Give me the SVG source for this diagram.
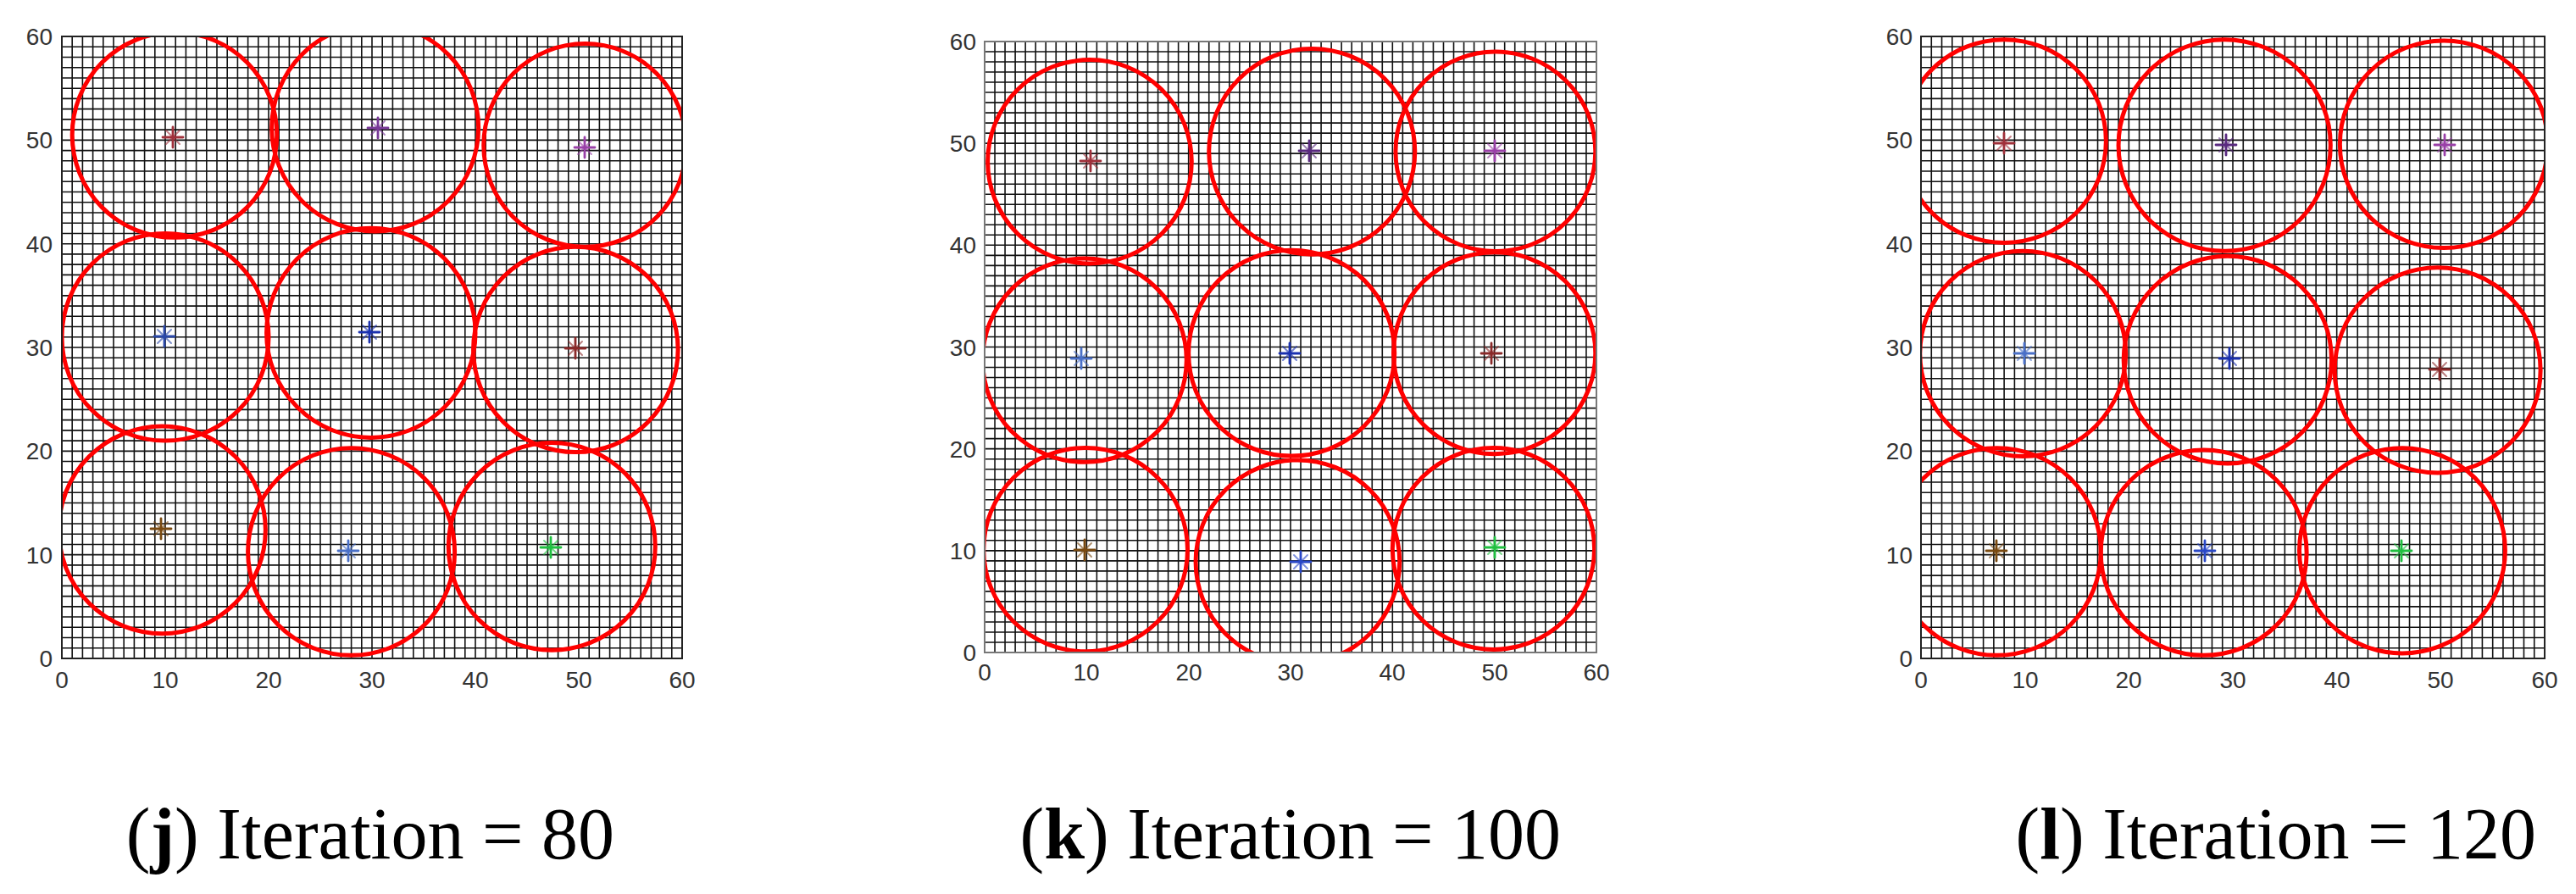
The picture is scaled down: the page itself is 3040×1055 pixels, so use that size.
<svg xmlns="http://www.w3.org/2000/svg" xmlns:xlink="http://www.w3.org/1999/xlink" width="3040" height="1055" viewBox="0 0 3040 1055">
<style>
.grid{fill:none;stroke:#111;stroke-width:1.6;vector-effect:non-scaling-stroke}
.ax{fill:none;stroke:#222;stroke-width:2;vector-effect:non-scaling-stroke}
.c{fill:none;stroke:#ff0000;stroke-width:5;vector-effect:non-scaling-stroke}
.tk{font-family:"Liberation Sans",Arial,sans-serif;font-size:28px;fill:#333}
.ty{text-anchor:end}
.tx{text-anchor:middle}
.cap{font-family:"Liberation Serif","Times New Roman",serif;font-size:86px;fill:#000;text-anchor:end}
</style>
<defs>
<clipPath id="clip"><rect x="0" y="0" width="60" height="60"/></clipPath>
<path id="gridp" class="grid" d="M1 0V60M2 0V60M3 0V60M4 0V60M5 0V60M6 0V60M7 0V60M8 0V60M9 0V60M10 0V60M11 0V60M12 0V60M13 0V60M14 0V60M15 0V60M16 0V60M17 0V60M18 0V60M19 0V60M20 0V60M21 0V60M22 0V60M23 0V60M24 0V60M25 0V60M26 0V60M27 0V60M28 0V60M29 0V60M30 0V60M31 0V60M32 0V60M33 0V60M34 0V60M35 0V60M36 0V60M37 0V60M38 0V60M39 0V60M40 0V60M41 0V60M42 0V60M43 0V60M44 0V60M45 0V60M46 0V60M47 0V60M48 0V60M49 0V60M50 0V60M51 0V60M52 0V60M53 0V60M54 0V60M55 0V60M56 0V60M57 0V60M58 0V60M59 0V60M0 1H60M0 2H60M0 3H60M0 4H60M0 5H60M0 6H60M0 7H60M0 8H60M0 9H60M0 10H60M0 11H60M0 12H60M0 13H60M0 14H60M0 15H60M0 16H60M0 17H60M0 18H60M0 19H60M0 20H60M0 21H60M0 22H60M0 23H60M0 24H60M0 25H60M0 26H60M0 27H60M0 28H60M0 29H60M0 30H60M0 31H60M0 32H60M0 33H60M0 34H60M0 35H60M0 36H60M0 37H60M0 38H60M0 39H60M0 40H60M0 41H60M0 42H60M0 43H60M0 44H60M0 45H60M0 46H60M0 47H60M0 48H60M0 49H60M0 50H60M0 51H60M0 52H60M0 53H60M0 54H60M0 55H60M0 56H60M0 57H60M0 58H60M0 59H60"/>
<g id="st" fill="none" stroke="currentColor" stroke-linecap="round">
<path d="M-12 0H12M0 -12V12" stroke-width="2.8"/>
<path d="M-8 -8L8 8M-8 8L8 -8" stroke-width="2" opacity="0.6"/>
</g>
</defs>

<!-- Plot j -->
<g id="plot-j">
<g transform="translate(73,777) scale(12.2,-12.233)">
<use xlink:href="#gridp"/>
<g clip-path="url(#clip)">
<circle class="c" cx="10.9" cy="50.5" r="9.9"/>
<circle class="c" cx="30.3" cy="51.2" r="10"/>
<circle class="c" cx="50.6" cy="49.5" r="9.8"/>
<circle class="c" cx="10" cy="31" r="10"/>
<circle class="c" cx="29.9" cy="31.4" r="10.1"/>
<circle class="c" cx="49.7" cy="29.8" r="9.9"/>
<circle class="c" cx="9.7" cy="12.4" r="10"/>
<circle class="c" cx="28" cy="10.3" r="10"/>
<circle class="c" cx="47.4" cy="10.8" r="10"/>
</g>
<rect class="ax" x="0" y="0" width="60" height="60"/>
</g>
<use xlink:href="#st" x="204" y="162" color="#a0303a"/>
<use xlink:href="#st" x="446" y="151" color="#7a3a9a"/>
<use xlink:href="#st" x="690" y="174" color="#9a40a8"/>
<use xlink:href="#st" x="194" y="397" color="#2a48a8"/>
<use xlink:href="#st" x="436" y="392" color="#1a30b0"/>
<use xlink:href="#st" x="679" y="411" color="#8b2a2a"/>
<use xlink:href="#st" x="190" y="624" color="#7a4a10"/>
<use xlink:href="#st" x="411" y="650" color="#4a70c8"/>
<use xlink:href="#st" x="650" y="646" color="#20c040"/>
<g class="tk ty">
<text x="62" y="787">0</text><text x="62" y="665">10</text><text x="62" y="542">20</text><text x="62" y="420">30</text><text x="62" y="298">40</text><text x="62" y="175">50</text><text x="62" y="53">60</text>
</g>
<g class="tk tx">
<text x="73" y="812">0</text><text x="195" y="812">10</text><text x="317" y="812">20</text><text x="439" y="812">30</text><text x="561" y="812">40</text><text x="683" y="812">50</text><text x="805" y="812">60</text>
</g>
<text class="cap" x="725" y="1013">(<tspan font-weight="bold">j</tspan>) Iteration = 80</text>
</g>

<!-- Plot k -->
<g id="plot-k">
<g transform="translate(1162,770) scale(12.033,-12.017)">
<use xlink:href="#gridp"/>
<g clip-path="url(#clip)">
<circle class="c" cx="10.3" cy="48.2" r="10"/>
<circle class="c" cx="32.1" cy="49.2" r="10.1"/>
<circle class="c" cx="50.1" cy="49.2" r="9.8"/>
<circle class="c" cx="9.8" cy="28.7" r="10"/>
<circle class="c" cx="30.1" cy="29.4" r="10.1"/>
<circle class="c" cx="50" cy="29.4" r="9.9"/>
<circle class="c" cx="9.9" cy="10.1" r="10"/>
<circle class="c" cx="30.7" cy="8.9" r="10"/>
<circle class="c" cx="49.9" cy="10.2" r="9.9"/>
</g>
<rect class="ax" x="0" y="0" width="60" height="60" style="stroke:#777"/>
</g>
<use xlink:href="#st" x="1287" y="190" color="#a0303a"/>
<use xlink:href="#st" x="1545" y="178" color="#5a2a80"/>
<use xlink:href="#st" x="1764" y="178" color="#9a40a8"/>
<use xlink:href="#st" x="1276" y="423" color="#4a70c8"/>
<use xlink:href="#st" x="1522" y="417" color="#1a30b0"/>
<use xlink:href="#st" x="1760" y="417" color="#8b2a2a"/>
<use xlink:href="#st" x="1280" y="649" color="#7a4a10"/>
<use xlink:href="#st" x="1535" y="663" color="#2a48c8"/>
<use xlink:href="#st" x="1764" y="646" color="#20c040"/>
<g class="tk ty">
<text x="1152" y="780">0</text><text x="1152" y="660">10</text><text x="1152" y="540">20</text><text x="1152" y="420">30</text><text x="1152" y="299">40</text><text x="1152" y="179">50</text><text x="1152" y="59">60</text>
</g>
<g class="tk tx">
<text x="1162" y="803">0</text><text x="1282" y="803">10</text><text x="1403" y="803">20</text><text x="1523" y="803">30</text><text x="1643" y="803">40</text><text x="1764" y="803">50</text><text x="1884" y="803">60</text>
</g>
<text class="cap" x="1842" y="1013">(<tspan font-weight="bold">k</tspan>) Iteration = 100</text>
</g>

<!-- Plot l -->
<g id="plot-l">
<g transform="translate(2267,777) scale(12.267,-12.233)">
<use xlink:href="#gridp"/>
<g clip-path="url(#clip)">
<circle class="c" cx="8" cy="49.9" r="9.8"/>
<circle class="c" cx="29.2" cy="49.5" r="10.2"/>
<circle class="c" cx="50.3" cy="49.6" r="10"/>
<circle class="c" cx="9.8" cy="29.4" r="9.9"/>
<circle class="c" cx="29.5" cy="28.8" r="10"/>
<circle class="c" cx="49.7" cy="27.8" r="9.9"/>
<circle class="c" cx="7.3" cy="10.3" r="10"/>
<circle class="c" cx="27.2" cy="10.2" r="9.9"/>
<circle class="c" cx="46.3" cy="10.4" r="9.9"/>
</g>
<rect class="ax" x="0" y="0" width="60" height="60"/>
</g>
<use xlink:href="#st" x="2365" y="169" color="#a0303a"/>
<use xlink:href="#st" x="2627" y="171" color="#5a2a80"/>
<use xlink:href="#st" x="2885" y="171" color="#9a40a8"/>
<use xlink:href="#st" x="2389" y="417" color="#4a70c8"/>
<use xlink:href="#st" x="2631" y="423" color="#1a30b0"/>
<use xlink:href="#st" x="2879" y="436" color="#8b2a2a"/>
<use xlink:href="#st" x="2356" y="650" color="#7a4a10"/>
<use xlink:href="#st" x="2602" y="650" color="#2a48c8"/>
<use xlink:href="#st" x="2834" y="650" color="#20c040"/>
<g class="tk ty">
<text x="2257" y="787">0</text><text x="2257" y="665">10</text><text x="2257" y="542">20</text><text x="2257" y="420">30</text><text x="2257" y="298">40</text><text x="2257" y="175">50</text><text x="2257" y="53">60</text>
</g>
<g class="tk tx">
<text x="2267" y="812">0</text><text x="2390" y="812">10</text><text x="2512" y="812">20</text><text x="2635" y="812">30</text><text x="2758" y="812">40</text><text x="2880" y="812">50</text><text x="3003" y="812">60</text>
</g>
<text class="cap" x="2993" y="1013">(<tspan font-weight="bold">l</tspan>) Iteration = 120</text>
</g>
</svg>
